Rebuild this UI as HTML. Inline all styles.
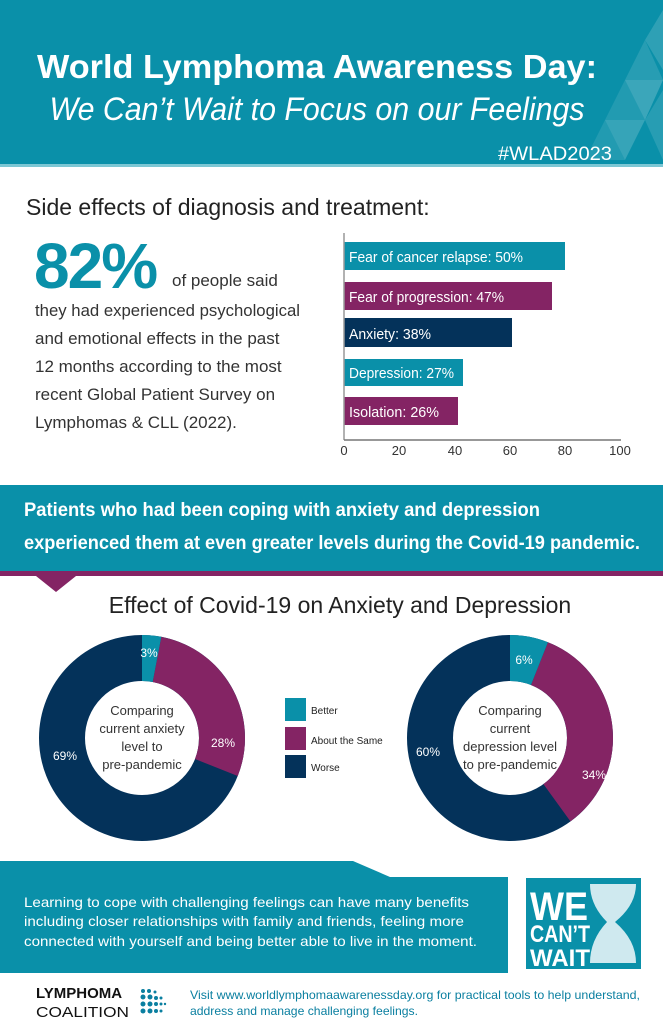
<!DOCTYPE html>
<html><head><meta charset="utf-8"><style>
body{margin:0;width:663px;height:1024px;overflow:hidden;background:#fff;font-family:"Liberation Sans",sans-serif}
svg{display:block}
</style></head><body>
<svg width="663" height="1024" viewBox="0 0 663 1024" font-family="Liberation Sans, sans-serif">
<rect x="0" y="0" width="663" height="166" fill="#0a90a9"/>
<rect x="0" y="164" width="663" height="3" fill="#7cc7d4"/>
<g fill="#ffffff">
<polygon points="663,10 645,40 663,70" opacity="0.15"/>
<polygon points="645,40 625,80 663,80" opacity="0.12"/>
<polygon points="663,80 625,80 645,120" opacity="0.2"/>
<polygon points="625,80 605,120 645,120" opacity="0.1"/>
<polygon points="645,120 605,120 625,160" opacity="0.18"/>
<polygon points="645,120 663,90 663,160" opacity="0.12"/>
<polygon points="605,120 585,160 625,160" opacity="0.1"/>
</g>
<text x="317" y="78" text-anchor="middle" fill="#fff" font-size="33" font-weight="bold" textLength="560" lengthAdjust="spacingAndGlyphs">World Lymphoma Awareness Day:</text>
<text x="317" y="120" text-anchor="middle" fill="#fff" font-size="32" font-style="italic" textLength="535" lengthAdjust="spacingAndGlyphs">We Can’t Wait to Focus on our Feelings</text>
<text x="612" y="160" text-anchor="end" fill="#fff" font-size="19" textLength="114" lengthAdjust="spacingAndGlyphs">#WLAD2023</text>

<text x="26" y="215" fill="#222" font-size="23">Side effects of diagnosis and treatment:</text>
<text x="34" y="288" fill="#0a90a9" font-size="64" font-weight="bold" letter-spacing="-2">82%</text>
<g fill="#333" font-size="17">
<text x="172" y="286">of people said</text>
<text x="35" y="316" textLength="265" lengthAdjust="spacingAndGlyphs">they had experienced psychological</text>
<text x="35" y="344">and emotional effects in the past</text>
<text x="35" y="372">12 months according to the most</text>
<text x="35" y="400">recent Global Patient Survey on</text>
<text x="35" y="428">Lymphomas &amp; CLL (2022).</text>
</g>

<rect x="344" y="242" width="221" height="28" fill="#0a90a9"/>
<rect x="344" y="282" width="208" height="28" fill="#842464"/>
<rect x="344" y="318" width="168" height="29" fill="#04325a"/>
<rect x="344" y="359" width="119" height="27" fill="#0a90a9"/>
<rect x="344" y="397" width="114" height="28" fill="#842464"/>
<g fill="#fff" font-size="15">
<text x="349" y="262" textLength="174" lengthAdjust="spacingAndGlyphs">Fear of cancer relapse: 50%</text>
<text x="349" y="302" textLength="155" lengthAdjust="spacingAndGlyphs">Fear of progression: 47%</text>
<text x="349" y="339" textLength="82" lengthAdjust="spacingAndGlyphs">Anxiety: 38%</text>
<text x="349" y="378" textLength="105" lengthAdjust="spacingAndGlyphs">Depression: 27%</text>
<text x="349" y="417" textLength="90" lengthAdjust="spacingAndGlyphs">Isolation: 26%</text>
</g>
<line x1="344" y1="233" x2="344" y2="440" stroke="#999" stroke-width="1.5"/>
<line x1="344" y1="440" x2="621" y2="440" stroke="#777" stroke-width="1.5"/>
<g fill="#333" font-size="13" text-anchor="middle">
<text x="344" y="455">0</text><text x="399" y="455">20</text><text x="455" y="455">40</text>
<text x="510" y="455">60</text><text x="565" y="455">80</text><text x="620" y="455">100</text>
</g>

<rect x="0" y="485" width="663" height="86" fill="#0a90a9"/>
<rect x="0" y="571" width="663" height="5" fill="#842464"/>
<polygon points="36,576 76,576 56,592" fill="#842464"/>
<text x="24" y="516" fill="#fff" font-size="19" font-weight="bold" textLength="516" lengthAdjust="spacingAndGlyphs">Patients who had been coping with anxiety and depression</text>
<text x="24" y="549" fill="#fff" font-size="19" font-weight="bold" textLength="616" lengthAdjust="spacingAndGlyphs">experienced them at even greater levels during the Covid-19 pandemic.</text>

<text x="340" y="613" text-anchor="middle" fill="#222" font-size="23">Effect of Covid-19 on Anxiety and Depression</text>

<g transform="translate(142,738) rotate(-90)" fill="none" stroke-width="46">
<circle r="80" stroke="#04325a"/>
<circle r="80" stroke="#842464" stroke-dasharray="0 15.08 140.74 400" />
<circle r="80" stroke="#0a90a9" stroke-dasharray="15.08 500"/>
</g>
<g transform="translate(510,738) rotate(-90)" fill="none" stroke-width="46">
<circle r="80" stroke="#04325a"/>
<circle r="80" stroke="#842464" stroke-dasharray="0 30.16 170.9 400"/>
<circle r="80" stroke="#0a90a9" stroke-dasharray="30.16 500"/>
</g>
<g fill="#fff" font-size="12" text-anchor="middle">
<text x="149" y="657">3%</text><text x="223" y="747">28%</text><text x="65" y="760">69%</text>
<text x="524" y="664">6%</text><text x="594" y="779">34%</text><text x="428" y="756">60%</text>
</g>
<g fill="#333" font-size="13" text-anchor="middle">
<text x="142" y="715">Comparing</text><text x="142" y="733">current anxiety</text><text x="142" y="751">level to</text><text x="142" y="769">pre-pandemic</text>
<text x="510" y="715">Comparing</text><text x="510" y="733">current</text><text x="510" y="751">depression level</text><text x="510" y="769">to pre-pandemic</text>
</g>
<rect x="285" y="698" width="21" height="23" fill="#0a90a9"/>
<rect x="285" y="727" width="21" height="23" fill="#842464"/>
<rect x="285" y="755" width="21" height="23" fill="#04325a"/>
<g fill="#222" font-size="10">
<text x="311" y="714">Better</text><text x="311" y="744">About the Same</text><text x="311" y="771">Worse</text>
</g>

<polygon points="0,861 353,861 390,877 508,877 508,973 0,973" fill="#0a90a9"/>
<text x="24" y="907" fill="#fff" font-size="14" textLength="445" lengthAdjust="spacingAndGlyphs">Learning to cope with challenging feelings can have many benefits</text>
<text x="24" y="926" fill="#fff" font-size="14" textLength="440" lengthAdjust="spacingAndGlyphs">including closer relationships with family and friends, feeling more</text>
<text x="24" y="946" fill="#fff" font-size="14" textLength="453" lengthAdjust="spacingAndGlyphs">connected with yourself and being better able to live in the moment.</text>
<rect x="526" y="878" width="115" height="91" fill="#0a90a9"/>
<path d="M590,884 L636,884 Q636,905 615,922 Q636,940 636,963 L590,963 Q590,940 607,922 Q590,905 590,884Z" fill="#cfe9ef"/>
<g fill="#fff" font-weight="bold">
<text x="530" y="920" font-size="40" textLength="58" lengthAdjust="spacingAndGlyphs">WE</text>
<text x="530" y="942" font-size="24" textLength="60" lengthAdjust="spacingAndGlyphs">CAN’T</text>
<text x="530" y="966" font-size="24" textLength="60" lengthAdjust="spacingAndGlyphs">WAIT</text>
</g>

<text x="36" y="998" fill="#111" font-size="15" font-weight="bold">LYMPHOMA</text>
<text x="36" y="1017" fill="#111" font-size="15" textLength="93" lengthAdjust="spacingAndGlyphs">COALITION</text>
<g fill="#0a7fa0">
<circle cx="143" cy="991" r="2"/><circle cx="149" cy="991" r="2"/><circle cx="155" cy="992" r="1.5"/>
<circle cx="143" cy="997" r="2.5"/><circle cx="150" cy="997" r="2.5"/><circle cx="156" cy="998" r="2"/><circle cx="161" cy="998" r="1.5"/>
<circle cx="143" cy="1004" r="2.5"/><circle cx="150" cy="1004" r="2.5"/><circle cx="156" cy="1004" r="2"/><circle cx="161" cy="1004" r="1.5"/><circle cx="165" cy="1004" r="1.2"/>
<circle cx="143" cy="1011" r="2.5"/><circle cx="150" cy="1011" r="2.5"/><circle cx="156" cy="1011" r="2"/><circle cx="161" cy="1011" r="1.5"/>
</g>
<text x="190" y="999" fill="#0a7fa0" font-size="12" textLength="450" lengthAdjust="spacingAndGlyphs">Visit www.worldlymphomaawarenessday.org for practical tools to help understand,</text>
<text x="190" y="1015" fill="#0a7fa0" font-size="12" textLength="228" lengthAdjust="spacingAndGlyphs">address and manage challenging feelings.</text>
</svg>
</body></html>
